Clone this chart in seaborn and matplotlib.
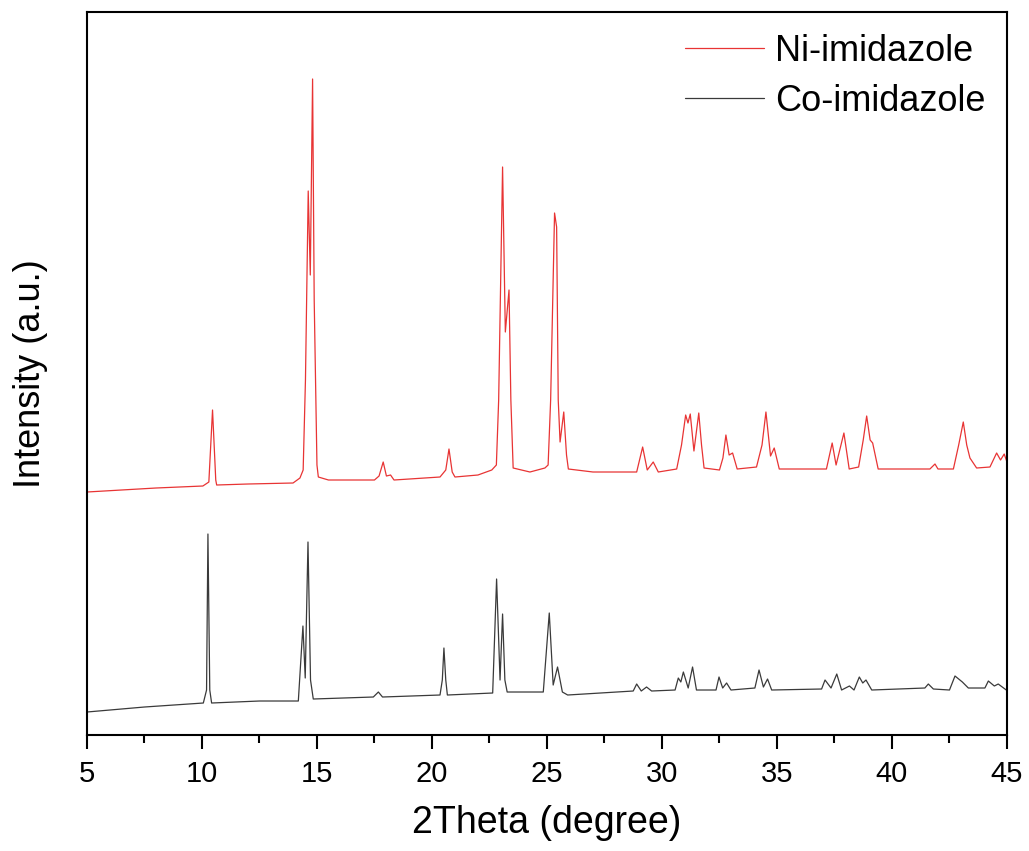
import pandas as pd
import seaborn as sns
import matplotlib.pyplot as plt
from matplotlib.ticker import MultipleLocator

# XRD traces (2theta in degree, intensity in a.u.)
ni_theta = [5.0, 6.5, 8.0, 10.04, 10.3, 10.46, 10.6, 10.64, 12.0, 13.96, 14.26, 14.4, 14.5,
            14.62, 14.71, 14.81, 14.88, 15.0, 15.06, 15.5, 17.5, 17.7, 17.88, 18.02, 18.2,
            18.35, 20.35, 20.6, 20.74, 20.88, 21.0, 22.0, 22.6, 22.8, 22.9, 23.07, 23.19,
            23.35, 23.43, 23.53, 24.26, 24.91, 25.05, 25.16, 25.33, 25.42, 25.49, 25.57,
            25.73, 25.85, 25.93, 27.0, 28.9, 29.16, 29.36, 29.62, 29.84, 30.64, 30.85,
            31.03, 31.13, 31.23, 31.39, 31.6, 31.72, 31.83, 32.5, 32.65, 32.78, 32.92,
            33.07, 33.27, 34.11, 34.35, 34.52, 34.72, 34.88, 35.1, 37.15, 37.4, 37.57,
            37.91, 38.14, 38.55, 38.75, 38.9, 39.05, 39.16, 39.4, 41.65, 41.87, 42.0,
            42.67, 42.9, 43.1, 43.25, 43.39, 43.68, 44.26, 44.55, 44.72, 44.88, 45.0]
ni_int = [243, 245, 247, 249, 253, 325, 255, 250, 251, 252, 257, 265, 355,
          544, 460, 656, 435, 270, 258, 255, 255, 259, 273, 259, 260,
          255, 258, 265, 286, 263, 258, 260, 265, 270, 335, 568, 403,
          445, 335, 267, 263, 267, 270, 335, 522, 508, 335, 293,
          323, 280, 266, 263, 263, 288, 265, 273, 263, 266, 290,
          320, 312, 321, 284, 322, 290, 267, 265, 277, 300, 280,
          282, 266, 268, 290, 323, 279, 287, 266, 266, 292, 270,
          302, 266, 268, 295, 319, 295, 292, 266, 266, 271, 266,
          266, 290, 313, 290, 277, 267, 268, 282, 275, 281, 273]

co_theta = [5.0, 7.5, 10.06, 10.2, 10.26, 10.34, 10.42, 12.5, 14.19, 14.39, 14.49, 14.61,
            14.72, 14.84, 17.45, 17.67, 17.85, 20.35, 20.45, 20.52, 20.6, 20.67, 22.64,
            22.81, 22.96, 23.07, 23.17, 23.27, 24.84, 25.1, 25.27, 25.46, 25.67, 25.9,
            28.75, 28.9, 29.1, 29.33, 29.55, 30.57, 30.71, 30.82, 30.93, 31.14, 31.33,
            31.5, 32.35, 32.48, 32.64, 32.81, 33.0, 34.04, 34.22, 34.41, 34.59, 34.77,
            36.94, 37.09, 37.35, 37.6, 37.81, 38.15, 38.35, 38.58, 38.73, 38.87, 39.12,
            41.43, 41.58, 41.8, 42.5, 42.74, 43.06, 43.32, 44.04, 44.19, 44.45, 44.62, 44.97]
co_int = [23, 28, 32, 45, 201, 45, 32, 34, 34, 109, 57, 193,
          55, 36, 38, 43, 38, 40, 55, 87, 55, 40, 42,
          156, 55, 121, 55, 43, 43, 122, 50, 68, 43, 40,
          44, 51, 44, 48, 44, 45, 57, 53, 63, 47, 68,
          45, 45, 58, 47, 52, 45, 47, 65, 48, 56, 45,
          46, 55, 47, 61, 45, 49, 45, 58, 52, 55, 45,
          47, 51, 46, 45, 59, 53, 47, 47, 54, 49, 51, 45]

labels = ["Ni-imidazole", "Co-imidazole"]
colors = ["#e83434", "#3a3a3a"]

df = pd.concat([
    pd.DataFrame({"theta": ni_theta, "intensity": ni_int, "sample": labels[0]}),
    pd.DataFrame({"theta": co_theta, "intensity": co_int, "sample": labels[1]}),
])

sns.set_theme(style="ticks")
plt.rcParams["font.family"] = ["Liberation Sans", "DejaVu Sans"]
plt.rcParams["text.color"] = "black"
plt.rcParams["axes.labelcolor"] = "black"
plt.rcParams["xtick.color"] = "black"
plt.rcParams["xtick.labelcolor"] = "black"

fig = plt.figure(figsize=(10.29, 8.51), dpi=100)
ax = fig.add_axes([0.0845, 0.1363, 0.8941, 0.8496])

sns.lineplot(data=df, x="theta", y="intensity", hue="sample", hue_order=labels,
             palette=colors, estimator=None, linewidth=0.9, ax=ax)

ax.set_xlim(5, 45)
ax.set_ylim(0, 723)
ax.xaxis.set_major_locator(MultipleLocator(5))
ax.xaxis.set_minor_locator(MultipleLocator(2.5))
ax.set_yticks([])
ax.tick_params(axis="x", which="major", direction="out", length=10, width=1.5,
               labelsize=21, pad=8, top=False, colors="black")
ax.tick_params(axis="x", which="minor", direction="out", length=6, width=1.5, top=False,
               colors="black")
for sp in ax.spines.values():
    sp.set_linewidth(1.5)
    sp.set_color("black")

ax.set_xlabel("2Theta (degree)", fontsize=27, labelpad=12, color="black")
ax.set_ylabel("Intensity (a.u.)", fontsize=26, labelpad=28, color="black")

leg = ax.legend(loc="upper right", frameon=False, fontsize=26, handlelength=2.2,
                handletextpad=0.3, labelspacing=0.42, borderaxespad=0.2)
for line in leg.get_lines():
    line.set_linewidth(0.9)
for t in leg.get_texts():
    t.set_color("black")

fig.savefig("out.png", dpi=100)
